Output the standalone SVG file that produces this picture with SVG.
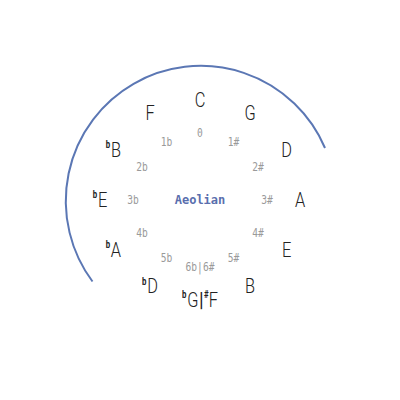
<svg xmlns="http://www.w3.org/2000/svg" width="400" height="400" viewBox="0 0 400 400">
<style>
.note{font-family:Roboto,"DejaVu Sans",sans-serif;font-weight:300;font-size:21px;fill:#222;text-anchor:middle;dominant-baseline:central}
.acc{font-size:10px;font-weight:bold}
.num{font-family:"DejaVu Sans Mono","Liberation Mono",monospace;font-size:12px;fill:#9a9a9a;text-anchor:middle;dominant-baseline:central}
.mode{font-family:"DejaVu Sans Mono","Liberation Mono",monospace;font-weight:bold;font-size:12px;fill:#5a6fae;text-anchor:middle;dominant-baseline:central}
.arc{fill:none;stroke:#5b77b4;stroke-width:2}
</style>
<rect width="400" height="400" fill="#fff"/>
<g id="connectors">
<path class="arc" d="M92.5 281.5 A135 135 0 1 1 325 148"/>
</g>
<g id="notes">
<g id="n-C"><text class="note" transform="translate(200,100) scale(0.78,1)">C</text></g>
<g id="n-G"><text class="note" transform="translate(250,113.4) scale(0.78,1)">G</text></g>
<g id="n-D"><text class="note" transform="translate(286.6,150) scale(0.78,1)">D</text></g>
<g id="n-A"><text class="note" transform="translate(300,200) scale(0.78,1)">A</text></g>
<g id="n-E"><text class="note" transform="translate(286.6,250) scale(0.78,1)">E</text></g>
<g id="n-B"><text class="note" transform="translate(250,286.6) scale(0.78,1)">B</text></g>
<g id="n-GbFs"><text class="note" transform="translate(200,300) scale(0.78,1)"><tspan class="acc" dy="-5">b</tspan><tspan dy="5" dx="1">G</tspan><tspan font-weight="bold" dx="1">|</tspan><tspan class="acc" dx="1" dy="-5">#</tspan><tspan dy="5">F</tspan></text></g>
<g id="n-Db"><text class="note" transform="translate(150,286.6) scale(0.78,1)"><tspan class="acc" dy="-5">b</tspan><tspan dy="5" dx="1">D</tspan></text></g>
<g id="n-Ab"><text class="note" transform="translate(113.4,250) scale(0.78,1)"><tspan class="acc" dy="-5">b</tspan><tspan dy="5" dx="1">A</tspan></text></g>
<g id="n-Eb"><text class="note" transform="translate(100,200) scale(0.78,1)"><tspan class="acc" dy="-5">b</tspan><tspan dy="5" dx="1">E</tspan></text></g>
<g id="n-Bb"><text class="note" transform="translate(113.4,150) scale(0.78,1)"><tspan class="acc" dy="-5">b</tspan><tspan dy="5" dx="1">B</tspan></text></g>
<g id="n-F"><text class="note" transform="translate(150,113.4) scale(0.78,1)">F</text></g>
</g>
<g id="counts">
<text class="num" transform="translate(200,133) scale(0.8,1)">0</text>
<text class="num" transform="translate(233.5,142) scale(0.8,1)">1#</text>
<text class="num" transform="translate(258,167) scale(0.8,1)">2#</text>
<text class="num" transform="translate(267,200) scale(0.8,1)">3#</text>
<text class="num" transform="translate(258,233) scale(0.8,1)">4#</text>
<text class="num" transform="translate(233.5,258) scale(0.8,1)">5#</text>
<text class="num" transform="translate(200,267) scale(0.8,1)">6b|6#</text>
<text class="num" transform="translate(166.5,258) scale(0.8,1)">5b</text>
<text class="num" transform="translate(142,233) scale(0.8,1)">4b</text>
<text class="num" transform="translate(133,200) scale(0.8,1)">3b</text>
<text class="num" transform="translate(142,167) scale(0.8,1)">2b</text>
<text class="num" transform="translate(166.5,142) scale(0.8,1)">1b</text>
</g>
<g id="center"><text class="mode" x="200" y="200">Aeolian</text></g>
</svg>
